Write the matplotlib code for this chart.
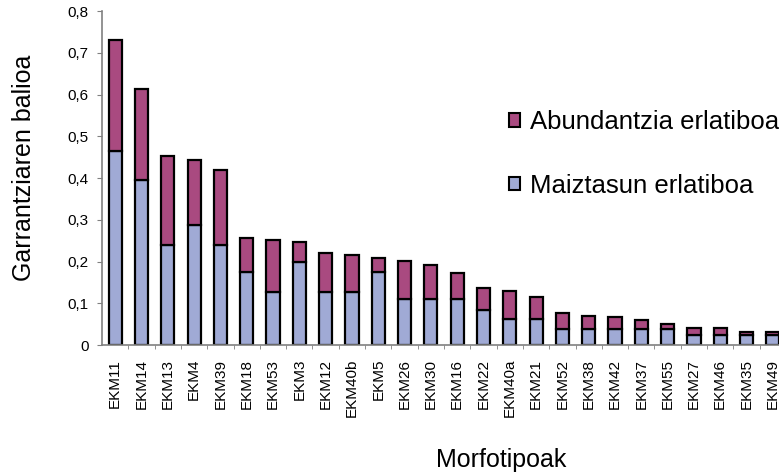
import numpy as np
import matplotlib.pyplot as plt
from matplotlib.patches import Patch

# === data ===
morfotipoak = ["EKM11", "EKM14", "EKM13", "EKM4", "EKM39", "EKM18", "EKM53", "EKM3",
               "EKM12", "EKM40b", "EKM5", "EKM26", "EKM30", "EKM16", "EKM22", "EKM40a",
               "EKM21", "EKM52", "EKM38", "EKM42", "EKM37", "EKM55", "EKM27", "EKM46",
               "EKM35", "EKM49"]
maiztasuna = [0.465, 0.395, 0.24, 0.287, 0.24, 0.175, 0.128, 0.2,
              0.128, 0.128, 0.175, 0.11, 0.11, 0.11, 0.085, 0.062,
              0.062, 0.038, 0.038, 0.038, 0.038, 0.038, 0.023, 0.023,
              0.023, 0.023]
guztira = [0.73, 0.613, 0.453, 0.443, 0.42, 0.256, 0.251, 0.247,
           0.22, 0.215, 0.209, 0.201, 0.192, 0.172, 0.136, 0.13,
           0.116, 0.077, 0.069, 0.066, 0.06, 0.05, 0.041, 0.041,
           0.032, 0.032]
abundantzia = [g - m for g, m in zip(guztira, maiztasuna)]

blue = "#A0AAD5"
pink = "#A94A80"
font = "Liberation Sans"

fig = plt.figure(figsize=(7.79, 4.73), dpi=100)
ax = fig.add_axes([0.131, 0.2706, 0.878, 0.706])

x = np.arange(len(morfotipoak))
ax.bar(x, maiztasuna, width=0.5, color=blue, edgecolor="black", linewidth=1.6)
ax.bar(x, abundantzia, bottom=maiztasuna, width=0.5, color=pink, edgecolor="black", linewidth=1.6)

ax.set_xlim(-0.5, len(morfotipoak) - 0.5)
ax.set_ylim(0, 0.8)
ax.set_yticks(np.arange(0, 0.81, 0.1))
ax.set_yticklabels(["0"] + [f"{v:.1f}".replace(".", ",") for v in np.arange(0.1, 0.81, 0.1)],
                   fontsize=11, family=font)
ax.set_xticks(x)
ax.set_xticklabels(morfotipoak, rotation=90, fontsize=11, family=font)
ax.set_xticks(x[:-1] + 0.5, minor=True)
ax.tick_params(axis="x", which="major", length=0, pad=10)
ax.tick_params(axis="x", which="minor", length=3, color="#808080")
ax.tick_params(axis="y", length=3.6, color="#808080", pad=6)

for s in ["top", "right"]:
    ax.spines[s].set_visible(False)
for s in ["left", "bottom"]:
    ax.spines[s].set_color("#808080")
    ax.spines[s].set_linewidth(1.2)

fig.text(0.031, 0.645, "Garrantziaren balioa", rotation=90, ha="center", va="center",
         fontsize=18, family=font)
fig.text(501 / 779, 1 - 460 / 473, "Morfotipoak", ha="center", va="center",
         fontsize=18, family=font)

handles = [Patch(facecolor=pink, edgecolor="black", linewidth=1.5),
           Patch(facecolor=blue, edgecolor="black", linewidth=1.5)]
fig.legend(handles, ["Abundantzia erlatiboa", "Maiztasun erlatiboa"],
           loc="upper left", bbox_to_anchor=(496 / 779, 1 - 97 / 473),
           frameon=False, borderpad=0, handlelength=0.45, handleheight=0.45,
           handletextpad=0.38, labelspacing=1.55,
           prop={"family": font, "size": 18.5})

fig.savefig("out.png", dpi=100)
